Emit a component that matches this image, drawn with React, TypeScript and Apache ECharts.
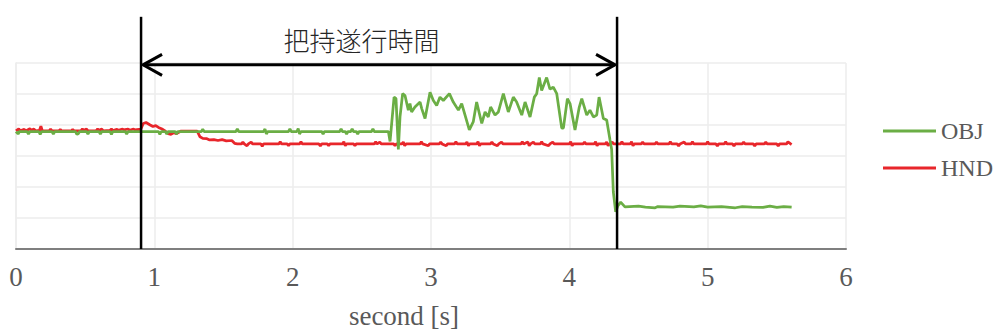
import React, { useEffect, useRef } from "react";
import * as echarts from "echarts";

// ---- data (time [s], value) ----
const X_TICKS = [0, 1, 2, 3, 4, 5, 6];
const SERIES_NAMES = ["OBJ", "HND"];

const OBJ_POINTS: [number, number][] = [
  [0.0, 3.79], [0.015, 3.71], [0.025, 3.79], [0.08, 3.79], [0.09, 3.71], [0.1, 3.79],
  [0.165, 3.79], [0.175, 3.7], [0.185, 3.79], [0.26, 3.79], [0.27, 3.71], [0.28, 3.79],
  [0.43, 3.79], [0.44, 3.7], [0.45, 3.72], [0.46, 3.79], [0.51, 3.79], [0.52, 3.71], [0.53, 3.79],
  [0.6, 3.79], [0.61, 3.71], [0.62, 3.79], [0.68, 3.79], [0.69, 3.7], [0.7, 3.79],
  [0.79, 3.79], [0.8, 3.71], [0.81, 3.79], [1.03, 3.79], [1.04, 3.7], [1.05, 3.79],
  [1.08, 3.79], [1.09, 3.71], [1.1, 3.79], [1.15, 3.79], [1.16, 3.71], [1.17, 3.79],
  [1.34, 3.79], [1.35, 3.86], [1.36, 3.79], [1.59, 3.79], [1.6, 3.87], [1.61, 3.79],
  [1.79, 3.79], [1.8, 3.87], [1.81, 3.71], [1.82, 3.79], [1.97, 3.79], [1.98, 3.87], [1.99, 3.79],
  [2.03, 3.79], [2.04, 3.88], [2.05, 3.71], [2.06, 3.79], [2.21, 3.79], [2.22, 3.71], [2.23, 3.79],
  [2.34, 3.79], [2.35, 3.87], [2.36, 3.79], [2.38, 3.79], [2.39, 3.71], [2.4, 3.79],
  [2.42, 3.79], [2.43, 3.87], [2.44, 3.79], [2.46, 3.79], [2.47, 3.71], [2.48, 3.79],
  [2.57, 3.79], [2.58, 3.87], [2.59, 3.79], [2.692, 3.79], [2.704, 3.47], [2.733, 4.9],
  [2.747, 4.85], [2.764, 3.21], [2.776, 4.26], [2.795, 5.01], [2.812, 4.95], [2.836, 4.48],
  [2.848, 4.69], [2.86, 4.42], [2.884, 4.58], [2.921, 4.74], [2.933, 4.53], [2.957, 4.21],
  [2.993, 5.06], [3.017, 4.79], [3.041, 4.63], [3.065, 4.9], [3.089, 4.79], [3.133, 5.01],
  [3.161, 4.74], [3.198, 4.48], [3.222, 4.69], [3.277, 3.84], [3.306, 4.11], [3.33, 4.74],
  [3.367, 4.05], [3.391, 4.42], [3.414, 4.26], [3.431, 4.58], [3.463, 4.32], [3.487, 4.42],
  [3.523, 5.01], [3.559, 4.42], [3.595, 4.9], [3.619, 4.74], [3.656, 4.32], [3.68, 4.74],
  [3.716, 4.26], [3.747, 4.9], [3.764, 5.01], [3.783, 5.53], [3.8, 5.11], [3.836, 5.53],
  [3.86, 5.16], [3.884, 5.22], [3.909, 5.01], [3.945, 3.9], [3.957, 3.9], [3.986, 4.85],
  [4.005, 4.69], [4.041, 3.84], [4.072, 4.58], [4.09, 4.85], [4.126, 4.32], [4.149, 4.48],
  [4.174, 4.26], [4.198, 4.32], [4.215, 4.9], [4.246, 4.21], [4.27, 4.16], [4.294, 3.52],
  [4.306, 3.21], [4.318, 1.84], [4.335, 1.2], [4.352, 1.4], [4.371, 1.51], [4.402, 1.36],
  [4.5, 1.38], [4.55, 1.35], [4.62, 1.33], [4.64, 1.37], [4.75, 1.35], [4.8, 1.38],
  [4.9, 1.36], [4.95, 1.39], [5.0, 1.35], [5.1, 1.37], [5.2, 1.33], [5.25, 1.37],
  [5.32, 1.35], [5.4, 1.34], [5.45, 1.38], [5.5, 1.34], [5.55, 1.37], [5.607, 1.35],
];

const HND_POINTS: [number, number][] = [
  [0.0, 3.81], [0.02, 3.88], [0.03, 3.81], [0.06, 3.86], [0.07, 3.81], [0.1, 3.88], [0.11, 3.83],
  [0.13, 3.87], [0.14, 3.81], [0.17, 3.83], [0.18, 3.96], [0.19, 3.82], [0.24, 3.81], [0.25, 3.87],
  [0.26, 3.81], [0.31, 3.81], [0.32, 3.86], [0.33, 3.81], [0.4, 3.81], [0.41, 3.86], [0.42, 3.81],
  [0.47, 3.82], [0.48, 3.87], [0.49, 3.83], [0.51, 3.87], [0.52, 3.81], [0.58, 3.82], [0.59, 3.87],
  [0.6, 3.83], [0.62, 3.87], [0.63, 3.81], [0.68, 3.83], [0.69, 3.87], [0.7, 3.82], [0.73, 3.86],
  [0.74, 3.83], [0.77, 3.87], [0.78, 3.84], [0.81, 3.87], [0.82, 3.83], [0.85, 3.87], [0.86, 3.84],
  [0.89, 3.86], [0.9, 3.84], [0.92, 4.05], [0.94, 4.08], [0.97, 4.0], [0.99, 3.95], [1.01, 3.98],
  [1.03, 3.92], [1.06, 3.86], [1.08, 3.8], [1.1, 3.72], [1.12, 3.7], [1.14, 3.75], [1.16, 3.72],
  [1.19, 3.8], [1.31, 3.8], [1.33, 3.62], [1.35, 3.57], [1.38, 3.56], [1.4, 3.52], [1.43, 3.53],
  [1.46, 3.5], [1.49, 3.53], [1.52, 3.49], [1.56, 3.5], [1.58, 3.41], [1.6, 3.39], [1.63, 3.39],
  [1.64, 3.45], [1.65, 3.39], [1.67, 3.33], [1.68, 3.39], [1.7, 3.45], [1.71, 3.39], [1.77, 3.39],
  [1.78, 3.31], [1.79, 3.39], [1.9, 3.39], [1.91, 3.46], [1.92, 3.39], [1.96, 3.39], [1.97, 3.33],
  [1.98, 3.39], [2.05, 3.39], [2.06, 3.46], [2.07, 3.39], [2.19, 3.39], [2.2, 3.32], [2.21, 3.39],
  [2.25, 3.39], [2.26, 3.33], [2.27, 3.39], [2.36, 3.39], [2.37, 3.46], [2.38, 3.33], [2.39, 3.39],
  [2.44, 3.39], [2.45, 3.33], [2.46, 3.39], [2.59, 3.39], [2.6, 3.46], [2.61, 3.39], [2.63, 3.45],
  [2.64, 3.39], [2.73, 3.39], [2.74, 3.33], [2.75, 3.39], [2.79, 3.39], [2.8, 3.45], [2.81, 3.33],
  [2.82, 3.39], [2.92, 3.39], [2.93, 3.46], [2.94, 3.39], [2.98, 3.33], [2.99, 3.39], [3.06, 3.39],
  [3.07, 3.45], [3.08, 3.39], [3.11, 3.33], [3.12, 3.39], [3.17, 3.39], [3.18, 3.46], [3.19, 3.39],
  [3.25, 3.39], [3.26, 3.45], [3.27, 3.33], [3.28, 3.39], [3.33, 3.39], [3.34, 3.46], [3.35, 3.33],
  [3.36, 3.39], [3.43, 3.39], [3.44, 3.45], [3.45, 3.39], [3.48, 3.33], [3.49, 3.39], [3.51, 3.45],
  [3.52, 3.39], [3.65, 3.39], [3.66, 3.46], [3.67, 3.39], [3.7, 3.45], [3.71, 3.33], [3.72, 3.39],
  [3.74, 3.45], [3.75, 3.39], [3.79, 3.39], [3.8, 3.46], [3.81, 3.39], [3.85, 3.33], [3.86, 3.39],
  [3.88, 3.45], [3.89, 3.39], [4.0, 3.39], [4.01, 3.46], [4.02, 3.33], [4.03, 3.39], [4.1, 3.39],
  [4.11, 3.45], [4.12, 3.39], [4.18, 3.39], [4.19, 3.46], [4.2, 3.33], [4.21, 3.39], [4.26, 3.39],
  [4.27, 3.45], [4.28, 3.33], [4.29, 3.39], [4.31, 3.45], [4.32, 3.39], [4.37, 3.39], [4.38, 3.46],
  [4.39, 3.39], [4.44, 3.39], [4.45, 3.46], [4.46, 3.33], [4.47, 3.39], [4.52, 3.39], [4.53, 3.45],
  [4.54, 3.39], [4.62, 3.39], [4.63, 3.45], [4.64, 3.39], [4.72, 3.39], [4.73, 3.46], [4.74, 3.39],
  [4.78, 3.39], [4.79, 3.32], [4.8, 3.39], [4.83, 3.45], [4.84, 3.39], [4.88, 3.39], [4.89, 3.46],
  [4.9, 3.39], [4.99, 3.39], [5.0, 3.46], [5.01, 3.39], [5.06, 3.39], [5.07, 3.32], [5.08, 3.39],
  [5.12, 3.39], [5.13, 3.46], [5.14, 3.39], [5.18, 3.39], [5.19, 3.32], [5.2, 3.39], [5.25, 3.39],
  [5.26, 3.45], [5.27, 3.39], [5.33, 3.39], [5.34, 3.32], [5.35, 3.39], [5.41, 3.39], [5.42, 3.45],
  [5.43, 3.39], [5.5, 3.39], [5.51, 3.32], [5.52, 3.39], [5.57, 3.39], [5.58, 3.46], [5.6, 3.39],
  [5.607, 3.37],
];

// annotation: grasp execution interval
const SPAN_TIMES = [0.904, 4.345];
const SPAN_LABEL = "把持遂行時間";
const SPAN_LABEL_TIME = 2.497;
const SPAN_ARROW_LEVEL = 5.94;
const SPAN_LABEL_LEVEL = 6.75;
const SPAN_TOP_LEVEL = 7.49;

const COLORS = { OBJ: "#6BAE45", HND: "#E8262B" };

export default function App() {
  const ref = useRef<HTMLDivElement>(null);

  useEffect(() => {
    if (!ref.current) return;
    const chart = echarts.init(ref.current, null, { renderer: "svg" });
    const serif = "'Liberation Serif', 'Times New Roman', serif";

    chart.setOption({
      animation: false,
      backgroundColor: "#ffffff",
      grid: { left: 16, right: 147, top: 63, bottom: 77, containLabel: false },
      legend: {
        data: SERIES_NAMES,
        orient: "vertical",
        left: 878,
        top: 114,
        itemWidth: 53,
        itemHeight: 3,
        itemGap: 13,
        icon: "rect",
        textStyle: { fontFamily: serif, fontSize: 24, color: "#595959" },
      },
      xAxis: {
        type: "value",
        min: X_TICKS[0],
        max: X_TICKS[X_TICKS.length - 1],
        interval: 1,
        name: "second [s]",
        nameLocation: "middle",
        nameGap: 53,
        nameTextStyle: {
          fontFamily: serif,
          fontSize: 27,
          color: "#595959",
          padding: [0, 54, 0, 0],
        },
        axisLine: { show: true, lineStyle: { color: "#7F7F7F", width: 2 } },
        axisTick: { show: false },
        axisLabel: { fontFamily: serif, fontSize: 27, color: "#595959", margin: 14 },
        splitLine: { show: true, lineStyle: { color: "#ECECEC", width: 1.5 } },
      },
      yAxis: {
        type: "value",
        min: 0,
        max: 6,
        interval: 1,
        axisLine: { show: true, lineStyle: { color: "#ECECEC", width: 1.5 } },
        axisTick: { show: false },
        axisLabel: { show: false },
        splitLine: { show: true, lineStyle: { color: "#ECECEC", width: 1.5 } },
      },
      series: [
        {
          name: "OBJ",
          type: "line",
          data: OBJ_POINTS,
          showSymbol: false,
          symbol: "none",
          lineStyle: { color: COLORS.OBJ, width: 2.75 },
          itemStyle: { color: COLORS.OBJ },
          z: 3,
        },
        {
          name: "HND",
          type: "line",
          data: HND_POINTS,
          showSymbol: false,
          symbol: "none",
          lineStyle: { color: COLORS.HND, width: 2.75 },
          itemStyle: { color: COLORS.HND },
          z: 2,
        },
        {
          name: "span",
          type: "custom",
          clip: false,
          silent: true,
          z: 10,
          data: [[SPAN_TIMES[0], SPAN_TIMES[1]]],
          encode: { x: [0, 1] },
          renderItem: (_params: any, api: any) => {
            const [xa, yBottom] = api.coord([SPAN_TIMES[0], 0]);
            const [xb] = api.coord([SPAN_TIMES[1], 0]);
            const [xl, yLabel] = api.coord([SPAN_LABEL_TIME, SPAN_LABEL_LEVEL]);
            const [, yTop] = api.coord([SPAN_TIMES[0], SPAN_TOP_LEVEL]);
            const [, yArrow] = api.coord([SPAN_TIMES[0], SPAN_ARROW_LEVEL]);
            const stroke = { stroke: "#000000", lineWidth: 2.5, fill: null };
            const ax = xa + 2;
            const bx = xb - 2;
            return {
              type: "group",
              children: [
                { type: "line", shape: { x1: xa, y1: yTop, x2: xa, y2: yBottom }, style: stroke },
                { type: "line", shape: { x1: xb, y1: yTop, x2: xb, y2: yBottom }, style: stroke },
                { type: "line", shape: { x1: ax, y1: yArrow, x2: bx, y2: yArrow }, style: { ...stroke, lineWidth: 3 } },
                {
                  type: "polyline",
                  shape: { points: [[ax + 19, yArrow - 10.5], [ax, yArrow], [ax + 19, yArrow + 10.5]] },
                  style: { ...stroke, lineWidth: 3 },
                },
                {
                  type: "polyline",
                  shape: { points: [[bx - 19, yArrow - 10.5], [bx, yArrow], [bx - 19, yArrow + 10.5]] },
                  style: { ...stroke, lineWidth: 3 },
                },
                {
                  type: "text",
                  x: xl,
                  y: yLabel,
                  style: {
                    text: SPAN_LABEL,
                    fill: "#262626",
                    fontSize: 26,
                    fontWeight: 300,
                    fontFamily: "'Noto Sans CJK JP', sans-serif",
                    align: "center",
                    verticalAlign: "middle",
                  },
                },
              ],
            };
          },
        },
      ],
    });

    return () => chart.dispose();
  }, []);

  return (
    <div
      ref={ref}
      style={{ position: "fixed", left: 0, top: 0, width: 993, height: 334 }}
    />
  );
}
